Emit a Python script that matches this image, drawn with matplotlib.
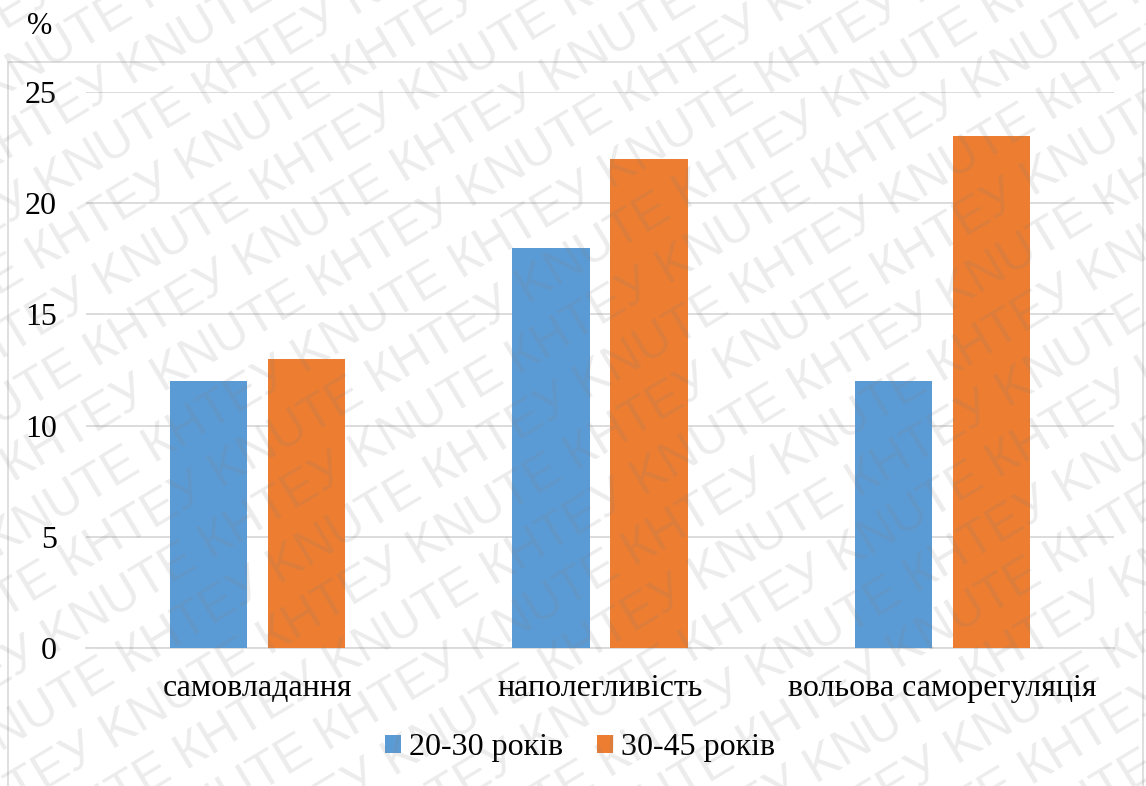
import numpy as np
import matplotlib.pyplot as plt
from matplotlib.patches import Rectangle

categories = ['самовладання', 'наполегливість', 'вольова саморегуляція']
series_names = ['20-30 років', '30-45 років']
young = [12, 18, 12]
older = [13, 22, 23]
y_ticks = [0, 5, 10, 15, 20, 25]

BLUE = '#5B9BD5'
ORANGE = '#ED7D31'
GRID = '#D9D9D9'

plt.rcParams['font.family'] = ['Liberation Serif', 'DejaVu Serif']

W, H = 1146, 786
fig = plt.figure(figsize=(W / 100, H / 100), dpi=100)
fig.patch.set_facecolor('white')

# chart area frame (runs past the bottom edge)
fig.patches.append(Rectangle((8 / W, -0.1), (1143 - 8) / W, 1.1 - 62 / H,
                             transform=fig.transFigure, fill=False,
                             edgecolor=GRID, lw=1.2))

ax = fig.add_axes([86 / W, 1 - 648 / H, (1114 - 86) / W, (648 - 92) / H])
x = np.arange(len(categories))
width = 0.225
offset = 0.143
ax.bar(x - offset, young, width, color=BLUE, label=series_names[0], zorder=3)
ax.bar(x + offset, older, width, color=ORANGE, label=series_names[1], zorder=3)

ax.set_xlim(-0.5, len(categories) - 0.5)
ax.set_ylim(0, 25)
ax.set_yticks(y_ticks)
ax.set_xticks(x)
ax.set_xticklabels(categories)
ax.tick_params(axis='both', length=0, labelsize=23)
ax.tick_params(axis='y', pad=21)
ax.tick_params(axis='x', pad=19)
ax.yaxis.grid(True, color=GRID, lw=1.3, zorder=0)
for s in ax.spines.values():
    s.set_visible(False)
ax.spines['bottom'].set_visible(True)
ax.spines['bottom'].set_color(GRID)
ax.spines['bottom'].set_linewidth(1.3)

fig.text(27 / W, 1 - 26 / H, '%', fontsize=22, ha='left', va='center')

fig.legend(loc='center', bbox_to_anchor=(580 / W, 1 - 748 / H), ncol=2,
           frameon=False, fontsize=23, handlelength=0.5, handleheight=0.5,
           handletextpad=0.25, columnspacing=1.05)

# diagonal watermark over the whole figure
wm = fig.add_axes([0, 0, 1, 1], zorder=10)
wm.set_xlim(0, W)
wm.set_ylim(0, H)
wm.axis('off')
wm.patch.set_alpha(0)
angle = 31
theta = np.deg2rad(angle)
u = np.array([np.cos(theta), np.sin(theta)])
v = np.array([-np.sin(theta), np.cos(theta)])
row_gap = 56
center = np.array([W / 2, H / 2])
line = ' '.join(['KNUTE', 'КНТЕУ'] * 8)
for j in range(-13, 14):
    shift = (j % 2) * 130
    pos = center + j * row_gap * v + shift * u
    wm.text(pos[0], pos[1], line, rotation=angle, rotation_mode='anchor',
            ha='center', va='center', fontsize=36, family='Liberation Sans',
            color='#808080', alpha=0.15, clip_on=True)

fig.savefig('out.png', dpi=100)
